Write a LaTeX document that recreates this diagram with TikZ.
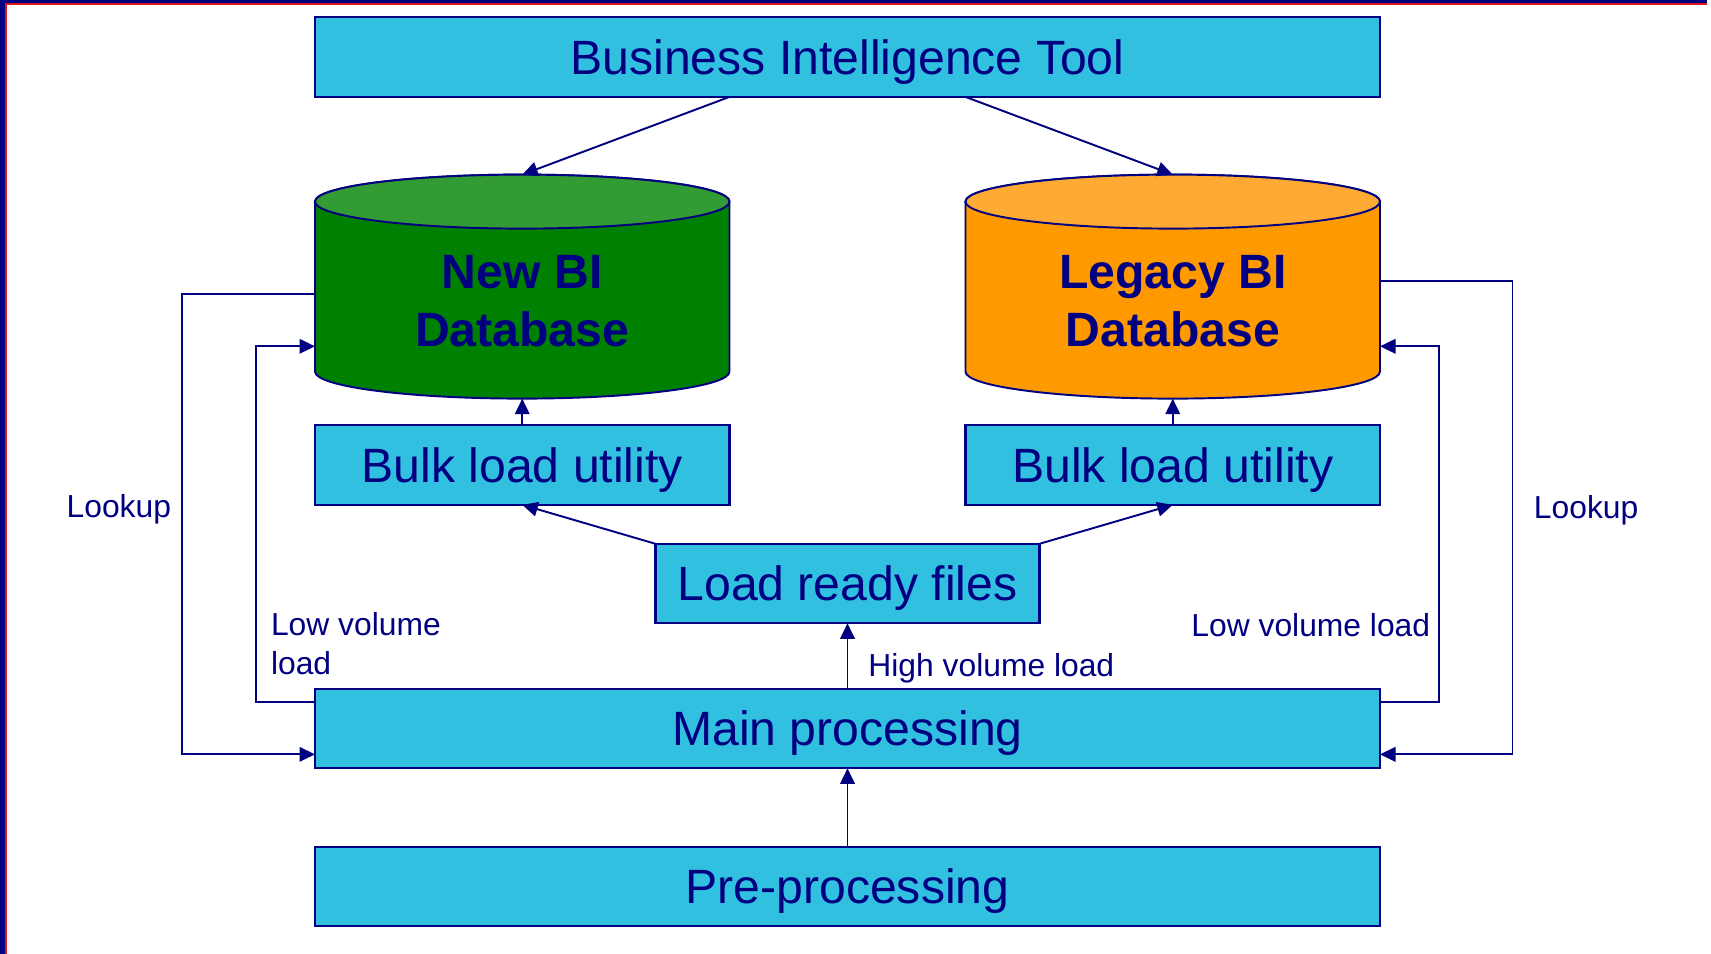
\documentclass[tikz,border=0pt]{standalone}
\usepackage{fontspec}
\setmainfont{Liberation Sans}
\usetikzlibrary{positioning,arrows.meta}

\definecolor{navy}{RGB}{0,0,128}
\definecolor{boxcyan}{RGB}{49,192,224}
\definecolor{dbgreen}{RGB}{0,128,0}
\definecolor{dbgreentop}{RGB}{51,155,51}
\definecolor{dborange}{RGB}{255,153,0}
\definecolor{dborangetop}{RGB}{255,171,51}
\definecolor{framered}{RGB}{220,20,30}

\newcommand{\boxfont}{\fontsize{27.4pt}{32.9pt}\selectfont}
\newcommand{\lblfont}{\fontsize{18.1pt}{21.8pt}\selectfont}

\begin{document}
\begin{tikzpicture}[
    box/.style={rectangle,draw=navy,fill=boxcyan,line width=1.2pt,minimum width=21.3cm,minimum height=1.59cm,
                inner sep=0pt,outer sep=0pt,text height=19.6pt,text depth=0pt,font=\boxfont,text=navy},
    dbnode/.style={rectangle,minimum width=8.29cm,minimum height=4.48cm,inner sep=0pt,outer sep=0pt},
    dbtext/.style={align=center,font=\boxfont\bfseries,text=navy},
    lbl/.style={inner sep=0pt,font=\lblfont,text=navy},
    arrow/.style={-{Triangle[length=0.31cm,width=0.29cm]},draw=navy,line width=1.1pt}
]

%--- Page size and slide frame ---%
\useasboundingbox (0,0) rectangle (34.22,-19.08);
\fill[navy] (0,0) rectangle (0.1,-19.08);
\fill[framered] (0.1,-0.09) rectangle (0.15,-19.08);
\fill[navy] (0,0) rectangle (34.14,-0.06);
\fill[framered] (0.1,-0.06) rectangle (34.14,-0.1);

%--- Nodes: BI tool and the two databases ---%
\node[box] (bi) at (16.95,-1.143) {Business Intelligence Tool};
\node[dbnode,below right=1.554cm and 0cm of bi.south west] (newdb) {};
\node[dbnode,below left=1.554cm and 0cm of bi.south east] (legacy) {};

% cylinder bodies and lids
\foreach \db/\body/\lid in {newdb/dbgreen/dbgreentop,legacy/dborange/dborangetop}{
  \filldraw[fill=\body,draw=navy,line width=1.1pt]
    ([yshift=-0.54cm]\db.north west) -- ([yshift=0.54cm]\db.south west)
    arc[start angle=180,end angle=360,x radius=4.145cm,y radius=0.54cm]
    -- ([yshift=-0.54cm]\db.north east)
    arc[start angle=0,end angle=180,x radius=4.145cm,y radius=0.54cm] -- cycle;
  \filldraw[fill=\lid,draw=navy,line width=1.1pt]
    ([yshift=-0.54cm]\db.north) ellipse[x radius=4.145cm,y radius=0.54cm];
}
\node[dbtext] (newdbtext) at ([yshift=-0.29cm]newdb.center) {New BI\\Database};
\node[dbtext] (legacytext) at ([yshift=-0.29cm]legacy.center) {Legacy BI\\Database};

%--- Nodes: loaders and processing ---%
\node[box,minimum width=8.29cm,below=0.534cm of newdb] (bulknew) {Bulk load utility};
\node[box,minimum width=8.29cm,below=0.534cm of legacy] (bulklegacy) {Bulk load utility};
\node[box,below right=3.68cm and 0cm of bulknew.south west] (main) {Main processing};
\node[box,minimum width=7.68cm,above=1.31cm of main] (ready) {Load ready files};
\node[box,below=1.57cm of main] (pre) {Pre-processing};

%--- Main flow ---%
\draw[arrow] (bi.south -| newdb.east) -- (newdb.north);
\draw[arrow] (bi.south -| legacy.west) -- (legacy.north);
\draw[arrow] (bulknew.north) -- (newdb.south);
\draw[arrow] (bulklegacy.north) -- (legacy.south);
\draw[arrow] (ready.north west) -- (bulknew.south);
\draw[arrow] (ready.north east) -- (bulklegacy.south);
\draw[arrow] (main.north) -- node[lbl,right=0.4cm,pos=0.32] (highvol) {High volume load} (ready.south);
\draw[arrow] (pre.north) -- (main.south);

%--- Low volume loads ---%
\draw[arrow] ([yshift=-0.26cm]main.north west) -- ++(-1.18cm,0) |- ([yshift=-1.194cm]newdb.west);
\draw[arrow] ([yshift=-0.26cm]main.north east) -- ++(1.18cm,0) |- ([yshift=-1.194cm]legacy.east);
\node[lbl,align=left,anchor=south west] (lowvolnew) at ([xshift=-0.886cm,yshift=0.28cm]main.north west) {Low volume\\load};
\node[lbl,anchor=base east] (lowvollegacy) at ([xshift=1.01cm,yshift=1.04cm]main.north east) {Low volume load};

%--- Lookups ---%
\draw[arrow] ([yshift=-0.14cm]newdb.west) -- ++(-2.66cm,0)
  |- node[lbl,left=0.2cm,pos=0.234] (lookupnew) {Lookup} ([yshift=-0.516cm]main.west);
\draw[arrow] ([yshift=0.12cm]legacy.east) -- ++(2.65cm,0)
  |- node[lbl,right=0.41cm,pos=0.242] (lookuplegacy) {Lookup} ([yshift=-0.516cm]main.east);

\end{tikzpicture}
\end{document}
